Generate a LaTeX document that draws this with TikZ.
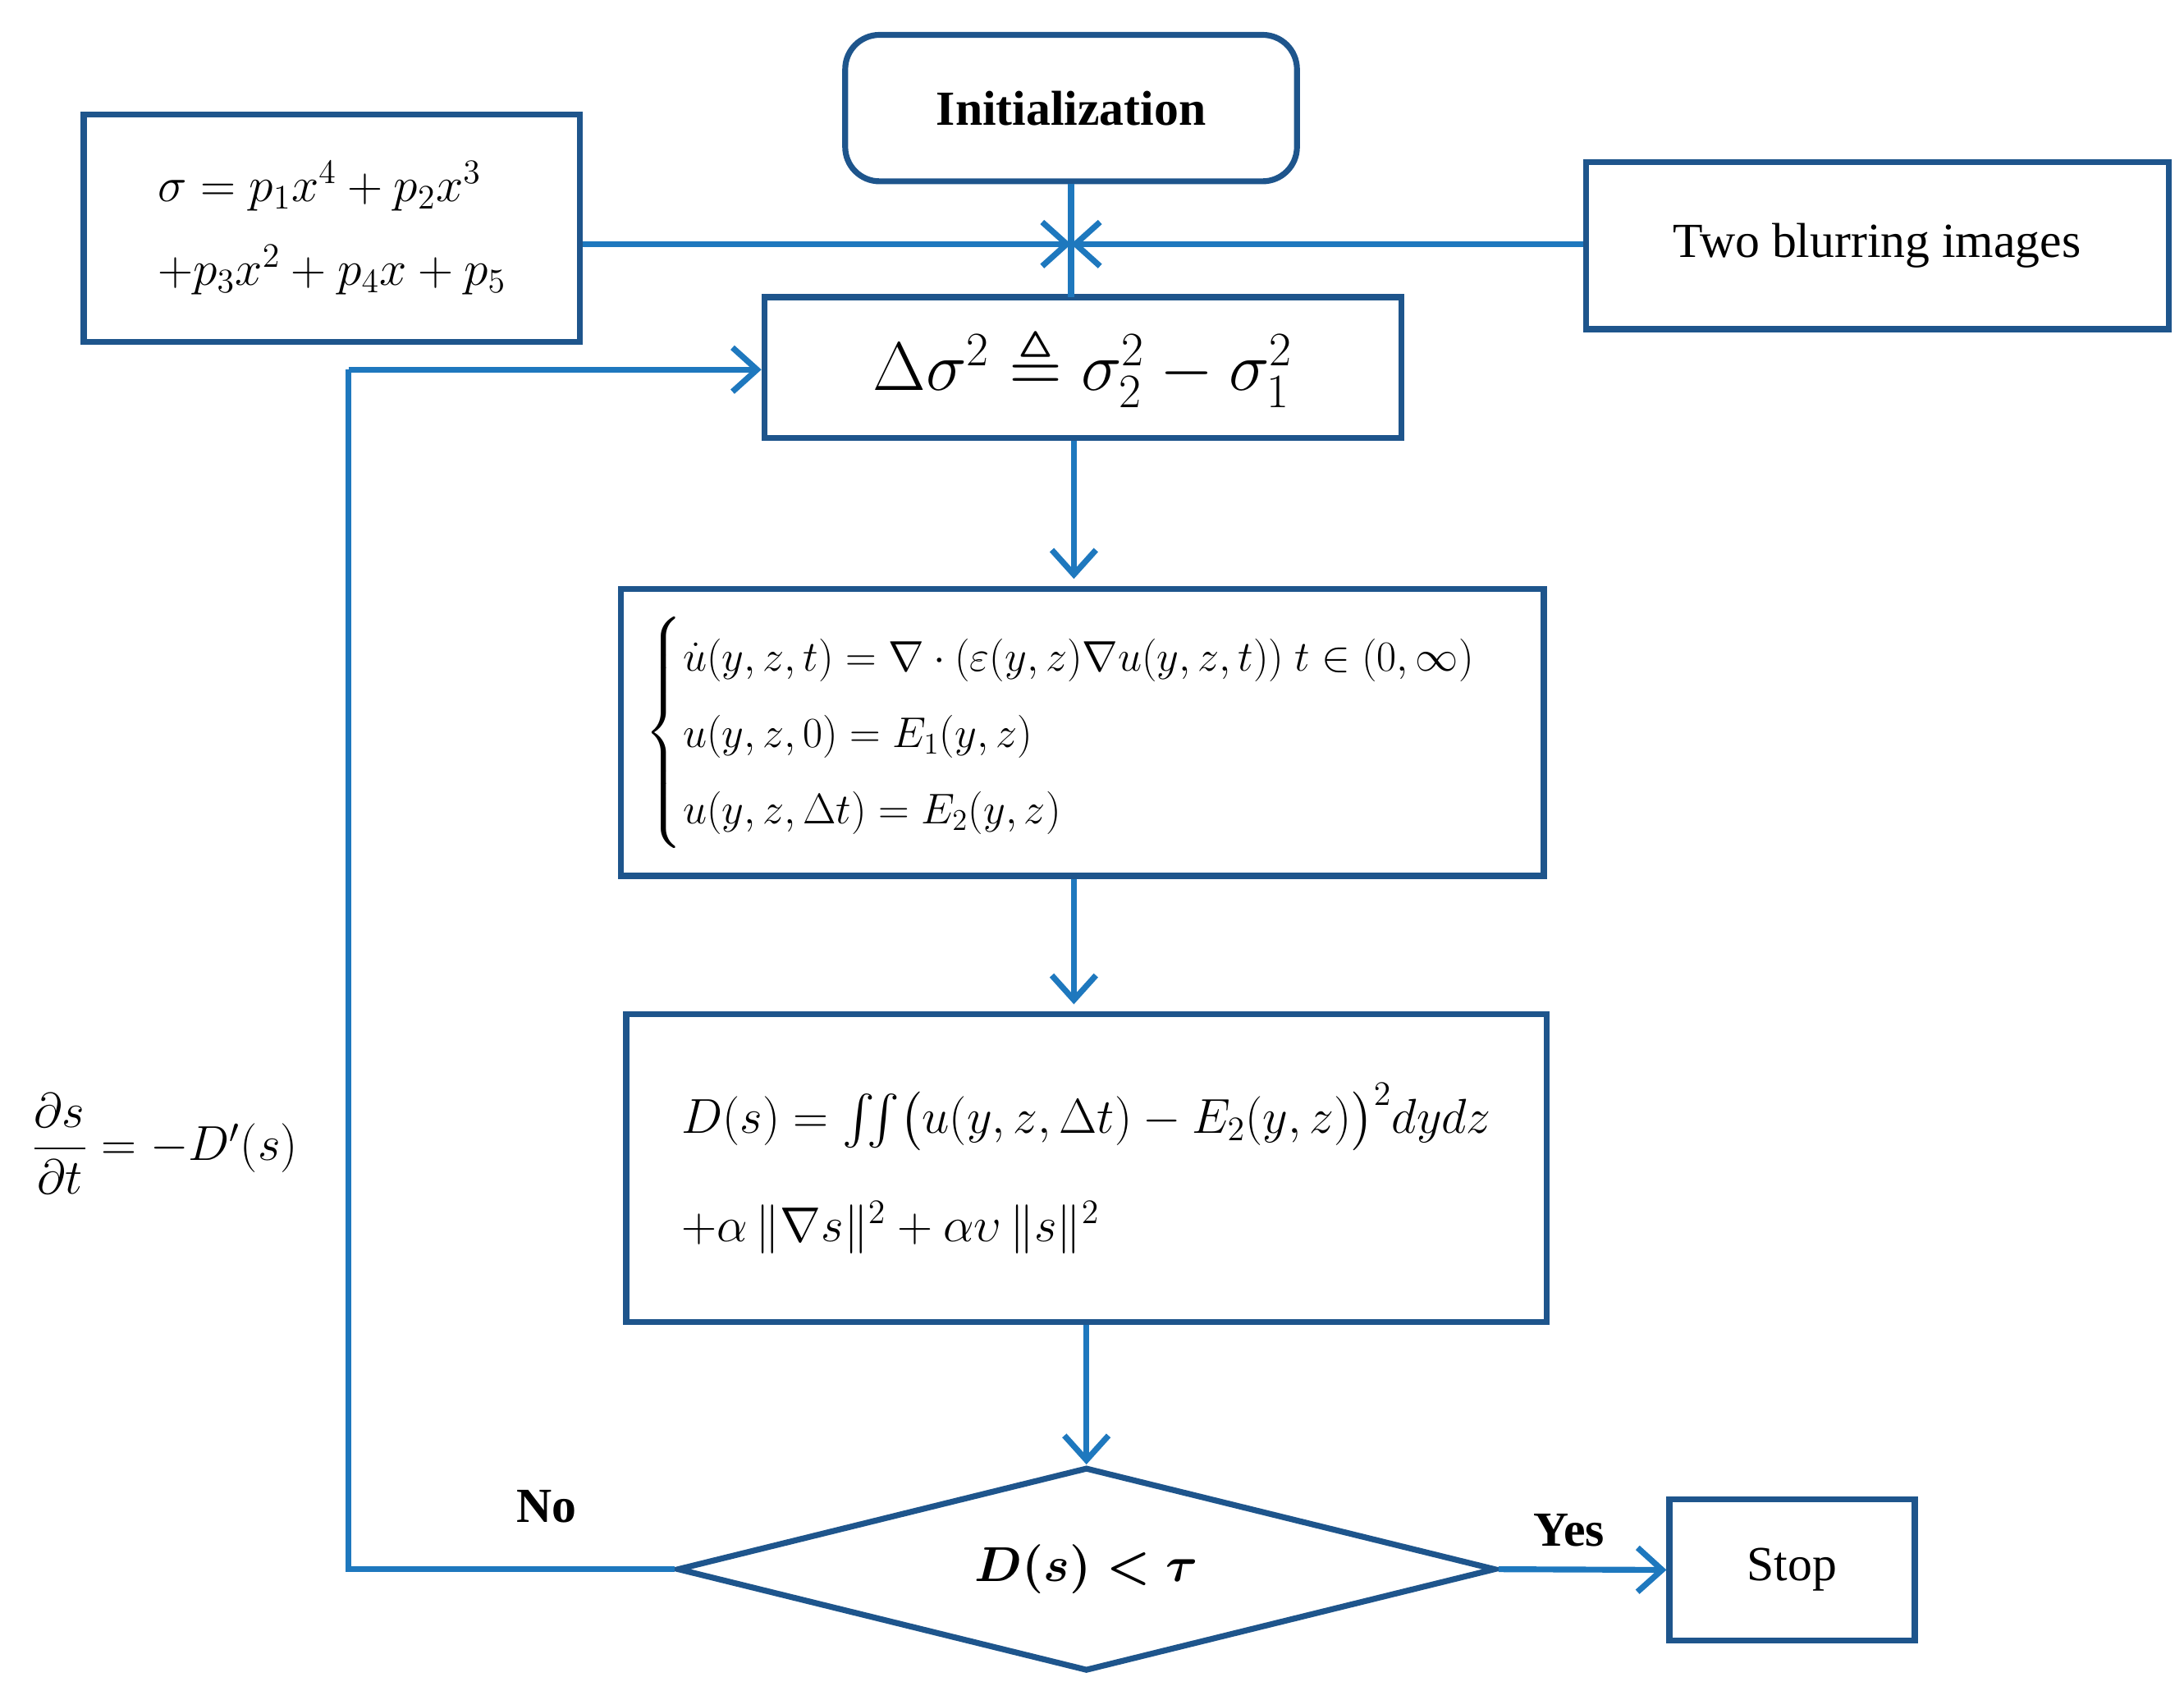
\documentclass[tikz,border=0pt]{standalone}
\usepackage{fix-cm}
\usepackage{amsmath,amssymb}
\usepackage{fontspec}
\setmainfont{Liberation Serif}
\usetikzlibrary{shapes.geometric,arrows.meta}
\definecolor{ln}{RGB}{30,120,190}
\definecolor{bd}{RGB}{30,85,140}
\begin{document}
\begin{tikzpicture}[x=0.02cm,y=-0.02cm,
  box/.style={draw=bd,line width=2.4pt,inner sep=0pt},
  arr/.style={draw=ln,line width=2.4pt,-{Straight Barb[length=10pt,width=18pt]}},
  ln/.style={draw=ln,line width=2.4pt},
  font=\fontsize{20}{30}\selectfont]
\useasboundingbox (0,0) rectangle (1566,1212);
\node[box,rounded corners=14pt,minimum width=6.48cm,minimum height=2.1cm] (init) at (768,77.5) {\textbf{Initialization}};
\node[box,minimum width=7.12cm,minimum height=3.26cm,align=left] (sig) at (238,163.5)
  {$\sigma=p_1x^4+p_2x^3$\\[4pt]$+p_3x^2+p_4x+p_5$};
\node[box,minimum width=8.36cm,minimum height=2.4cm] (blur) at (1346,176) {Two blurring images};
\node[box,minimum width=9.14cm,minimum height=2.02cm,font=\fontsize{28}{34}\selectfont] (del) at (776.5,263.5)
  {$\Delta\sigma^2\triangleq\sigma_2^2-\sigma_1^2$};
\node[box,minimum width=13.24cm,minimum height=4.12cm,font=\fontsize{17.5}{26}\selectfont] (pde) at (776,525)
  {$\begin{cases}\dot u(y,z,t)=\nabla\cdot(\varepsilon(y,z)\nabla u(y,z,t))\ t\in(0,\infty)\\ u(y,z,0)=E_1(y,z)\\ u(y,z,\Delta t)=E_2(y,z)\end{cases}$};
\node[box,minimum width=13.2cm,minimum height=4.42cm,align=left] (ds) at (779,837.5)
  {$D(s)=\iint\bigl(u(y,z,\Delta t)-E_2(y,z)\bigr)^2dydz$\\[14pt]$+\alpha\,\|\nabla s\|^2+\alpha\upsilon\,\|s\|^2$\hspace*{5.5cm}};
\node[box,diamond,aspect=4.02,minimum width=11.74cm,minimum height=2.92cm] (dec) at (779,1125)
  {$\boldsymbol{D(s)<\tau}$};
\node[box,minimum width=3.52cm,minimum height=2.02cm] (stop) at (1285,1125.5) {Stop};
\coordinate (m) at (768,175);
\coordinate (lb) at (250,1125);
\coordinate (lt) at (250,265);
\draw[ln] (init.south) -- (768,213);
\draw[arr] (sig.east|-m) -- (m);
\draw[arr] (blur.west|-m) -- (m);
\draw[arr] (del.south-|770,0) -- (770,415);
\draw[arr] (pde.south-|770,0) -- (770,720);
\draw[arr] (ds.south-|779,0) -- (dec.north);
\draw[ln] (dec.west) -- (lb) -- (lt);
\draw[arr] (lt) -- (del.west|-lt);
\draw[arr] (dec.east) -- (stop.west);
\node[font=\fontsize{20}{24}\selectfont\bfseries] (no) at (392,1080) {No};
\node[font=\fontsize{20}{24}\selectfont\bfseries] (yes) at (1125,1097) {Yes};
\node (pd) at (118,820) {$\dfrac{\partial s}{\partial t}=-D'(s)$};
\end{tikzpicture}
\end{document}
